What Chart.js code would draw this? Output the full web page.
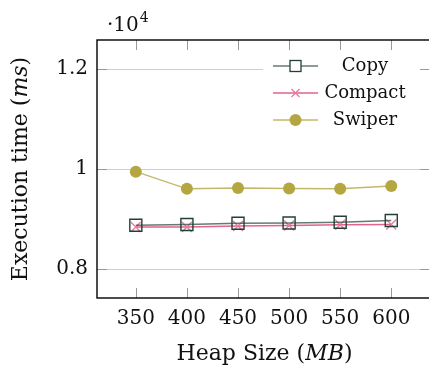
<!DOCTYPE html>
<html>
<head>
<meta charset="utf-8">
<script src="https://cdn.jsdelivr.net/npm/chart.js@4/dist/chart.umd.min.js"></script>
<style>
  html, body { margin: 0; padding: 0; background: #fff; overflow: hidden; }
  #wrap { position: absolute; left: 0; top: 0; width: 440px; height: 373px; }
</style>
</head>
<body>
<div id="wrap"><canvas id="chart" width="440" height="373"></canvas></div>
<script>
// heap sizes (MB) and execution times (ms)
const heapSizes = [350, 400, 450, 500, 550, 600];
const copyTimes = [8874, 8890, 8915, 8920, 8935, 8970];
const compactTimes = [8840, 8840, 8860, 8870, 8885, 8890];
const swiperTimes = [9946, 9604, 9620, 9610, 9604, 9660];
const yTicks = [8000, 10000, 12000];

const SERIF = '"DejaVu Serif", serif';

const toPoints = vals => vals.map((v, i) => ({ x: heapSizes[i], y: v }));

// frame, inward ticks, axis titles, exponent label and legend
const decorations = {
    id: 'decorations',
    afterDraw(chart) {
        const ctx = chart.ctx;
        const a = chart.chartArea;
        const xs = chart.scales.x, ys = chart.scales.y;
        ctx.save();

        // inward ticks
        ctx.strokeStyle = '#999';
        ctx.lineWidth = 1;
        ctx.beginPath();
        xs.ticks.forEach(t => {
            const px = Math.round(xs.getPixelForValue(t.value)) + 0.5;
            ctx.moveTo(px, a.bottom); ctx.lineTo(px, a.bottom - 10);
            ctx.moveTo(px, a.top); ctx.lineTo(px, a.top + 10);
        });
        ys.ticks.forEach(t => {
            const py = Math.round(ys.getPixelForValue(t.value)) + 0.5;
            ctx.moveTo(a.left, py); ctx.lineTo(a.left + 10, py);
            ctx.moveTo(a.right, py); ctx.lineTo(a.right - 10, py);
        });
        ctx.stroke();

        // frame
        ctx.strokeStyle = '#000';
        ctx.lineWidth = 1.4;
        ctx.strokeRect(a.left, a.top, a.right - a.left, a.bottom - a.top);

        // exponent
        ctx.fillStyle = '#111';
        ctx.textBaseline = 'alphabetic';
        ctx.textAlign = 'left';
        ctx.font = '20px ' + SERIF;
        ctx.fillText('\u00b710', a.left + 10, 31);
        const ew = ctx.measureText('\u00b710').width;
        ctx.font = '14px ' + SERIF;
        ctx.fillText('4', a.left + 10 + ew + 1, 22);

        // axis titles with italic units
        const drawParts = (parts, cx, cy) => {
            let w = 0;
            parts.forEach(p => { ctx.font = p.font; w += ctx.measureText(p.text).width; });
            let x = cx - w / 2;
            parts.forEach(p => {
                ctx.font = p.font;
                ctx.fillText(p.text, x, cy);
                x += ctx.measureText(p.text).width;
            });
        };
        const up = '22px ' + SERIF, it = 'italic 22px ' + SERIF;
        ctx.textBaseline = 'middle';
        drawParts([{ text: 'Heap Size (', font: up }, { text: 'MB', font: it }, { text: ')', font: up }],
            (a.left + 432) / 2, 354);
        ctx.save();
        ctx.translate(21, (a.top + a.bottom) / 2);
        ctx.rotate(-Math.PI / 2);
        drawParts([{ text: 'Execution time (', font: up }, { text: 'ms', font: it }, { text: ')', font: up }], 0, 0);
        ctx.restore();

        // legend
        const bx = a.left + 166, by = 50, bw = 157, bh = 84;
        ctx.fillStyle = '#fff';
        ctx.fillRect(bx, by, bw, bh);
        ctx.font = '18px ' + SERIF;
        ctx.textAlign = 'center';
        chart.data.datasets.forEach((ds, i) => {
            const y = by + 16 + i * 27;
            const x0 = bx + 10, x1 = bx + 55, mx = (x0 + x1) / 2;
            ctx.strokeStyle = ds.borderColor;
            ctx.lineWidth = 1.6;
            ctx.beginPath(); ctx.moveTo(x0, y); ctx.lineTo(x1, y); ctx.stroke();
            ctx.strokeStyle = ds.pointBorderColor;
            ctx.fillStyle = ds.pointBackgroundColor;
            ctx.lineWidth = 1.3;
            if (ds.pointStyle === 'rect') {
                ctx.fillStyle = '#fff';
                ctx.fillRect(mx - 5.5, y - 5.5, 11, 11);
                ctx.strokeRect(mx - 5.5, y - 5.5, 11, 11);
            } else if (ds.pointStyle === 'crossRot') {
                ctx.beginPath();
                ctx.moveTo(mx - 4, y - 4); ctx.lineTo(mx + 4, y + 4);
                ctx.moveTo(mx - 4, y + 4); ctx.lineTo(mx + 4, y - 4);
                ctx.stroke();
            } else {
                ctx.beginPath(); ctx.arc(mx, y, 6, 0, Math.PI * 2); ctx.fill();
            }
            ctx.fillStyle = '#111';
            ctx.fillText(ds.label, bx + 102, y);
        });
        ctx.restore();
    }
};

new Chart(document.getElementById('chart'), {
    type: 'line',
    data: {
        datasets: [
            {
                label: 'Copy', data: toPoints(copyTimes),
                borderColor: 'rgba(47,79,72,0.75)', borderWidth: 1.4,
                pointStyle: 'rect', pointRadius: 8.5, pointBorderWidth: 1.4,
                pointBorderColor: '#233f38', pointBackgroundColor: 'rgba(255,255,255,0)'
            },
            {
                label: 'Compact', data: toPoints(compactTimes),
                borderColor: '#e2638d', borderWidth: 1.4,
                pointStyle: 'crossRot', pointRadius: 7, pointBorderWidth: 1.3,
                pointBorderColor: '#e878a0', pointBackgroundColor: '#e878a0'
            },
            {
                label: 'Swiper', data: toPoints(swiperTimes),
                borderColor: 'rgba(181,166,66,0.8)', borderWidth: 1.4,
                pointStyle: 'circle', pointRadius: 6, pointBorderWidth: 0,
                pointBorderColor: '#b5a642', pointBackgroundColor: '#b5a642'
            }
        ]
    },
    options: {
        responsive: false,
        animation: false,
        devicePixelRatio: 1,
        layout: { padding: { top: 40, left: 0, right: 8, bottom: 0 } },
        plugins: { legend: { display: false }, tooltip: { enabled: false } },
        scales: {
            x: {
                type: 'linear', min: 312, max: 638,
                afterBuildTicks: s => { s.ticks = heapSizes.map(v => ({ value: v })); },
                afterFit: s => { s.height = 75; },
                grid: { display: false, drawTicks: false },
                border: { display: false },
                ticks: { color: '#111', padding: 9, font: { family: SERIF, size: 20 } }
            },
            y: {
                min: 7420, max: 12580,
                afterBuildTicks: s => { s.ticks = yTicks.map(v => ({ value: v })); },
                afterFit: s => { s.width = 97; },
                grid: { color: '#cfcfcf', lineWidth: 1, drawTicks: false },
                border: { display: false },
                ticks: {
                    color: '#111', padding: 9, font: { family: SERIF, size: 20 },
                    callback: v => String(v / 10000)
                }
            }
        }
    },
    plugins: [decorations]
});
</script>
</body>
</html>
